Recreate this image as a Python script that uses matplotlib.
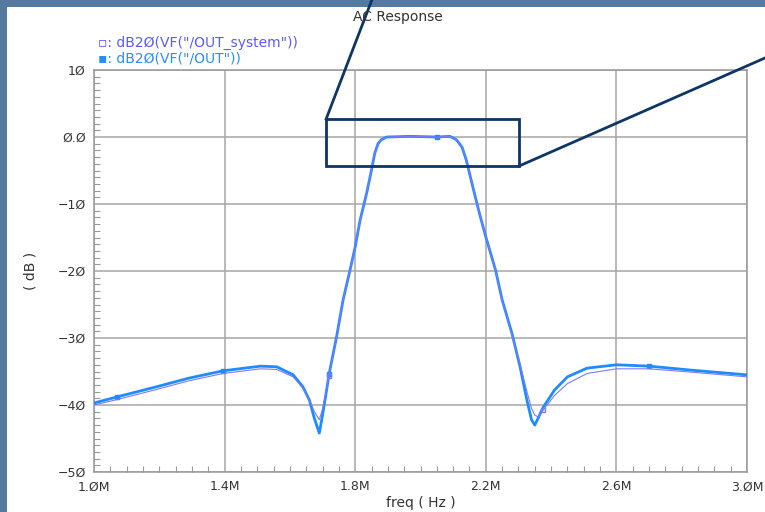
import matplotlib
matplotlib.use("Agg")
import matplotlib.pyplot as plt
from matplotlib.patches import Rectangle
from matplotlib.ticker import MultipleLocator

# ---- data (frequency in MHz, magnitude in dB) ----
freq = [1.00, 1.07, 1.19, 1.29, 1.395, 1.51, 1.56, 1.61, 1.64, 1.66, 1.675,
        1.69, 1.70, 1.71, 1.72, 1.743, 1.763, 1.784, 1.80, 1.815, 1.835, 1.85,
        1.86, 1.87, 1.88, 1.897, 1.968, 2.05, 2.09, 2.11, 2.127, 2.14, 2.16,
        2.18, 2.20, 2.23, 2.25, 2.28, 2.305, 2.326, 2.34, 2.35, 2.36, 2.375,
        2.41, 2.45, 2.51, 2.60, 2.70, 2.83, 3.00]
out_db = [-39.7, -38.8, -37.3, -36.0, -34.9, -34.2, -34.3, -35.5, -37.3, -39.3, -42.0,
          -44.2, -41.5, -38.5, -35.4, -29.8, -24.3, -19.9, -16.4, -12.4, -8.4, -4.9,
          -2.4, -1.0, -0.4, 0.0, 0.1, 0.0, 0.1, -0.4, -1.5, -3.4, -7.4,
          -11.3, -14.9, -19.9, -24.3, -29.3, -34.3, -39.3, -42.2, -43.0, -42.0, -40.4,
          -37.8, -35.8, -34.5, -34.0, -34.2, -34.8, -35.5]
sys_db = [-40.0, -39.2, -37.7, -36.4, -35.3, -34.6, -34.7, -35.8, -37.5, -39.3, -41.0,
          -42.2, -40.6, -38.2, -35.6, -29.9, -24.4, -19.9, -16.4, -12.4, -8.4, -4.9,
          -2.4, -1.0, -0.4, 0.0, 0.1, 0.0, 0.1, -0.4, -1.5, -3.4, -7.4,
          -11.3, -14.9, -19.9, -24.4, -29.5, -34.0, -38.0, -40.5, -41.5, -41.8, -40.8,
          -38.6, -36.8, -35.3, -34.6, -34.6, -35.1, -35.8]
out_markers = [1, 4, 14, 27, 48]
sys_markers = [14, 43]

xticks = [1.0, 1.4, 1.8, 2.2, 2.6, 3.0]
xticklabels = ["1.ØM", "1.4M", "1.8M", "2.2M", "2.6M", "3.ØM"]
yticks = [10, 0, -10, -20, -30, -40, -50]
yticklabels = ["1Ø", "Ø.Ø", "−1Ø", "−2Ø", "−3Ø", "−4Ø", "−5Ø"]

legend_sys = "▫: dB2Ø(VF(\"/OUT_system\"))"
legend_out = "▪: dB2Ø(VF(\"/OUT\"))"

# zoom box (data coords)
box_f = (1.711, 2.302)
box_db = (-4.33, 2.69)

W, H = 765, 512
fig = plt.figure(figsize=(W / 100, H / 100), dpi=100)
fig.patch.set_facecolor("#55799f")
fig.add_artist(Rectangle((7 / W, 0), 1 - 7 / W, 1 - 7 / H, transform=fig.transFigure,
                         facecolor="white", edgecolor="none", zorder=0))

ax = fig.add_axes([94 / W, 1 - 472 / H, (747 - 94) / W, (472 - 70) / H])
ax.set_facecolor("white")
ax.set_xlim(1.0, 3.0)
ax.set_ylim(-50, 10)

ax.set_xticks(xticks)
ax.set_xticklabels(xticklabels)
ax.set_yticks(yticks)
ax.set_yticklabels(yticklabels)
ax.xaxis.set_minor_locator(MultipleLocator(0.05))
ax.yaxis.set_minor_locator(MultipleLocator(1))
ax.tick_params(which="both", direction="in", colors="#999999", labelcolor="#333333",
               labelsize=9)
ax.tick_params(which="major", length=0, pad=6)
ax.tick_params(which="minor", length=4, width=0.8)
ax.grid(True, which="major", color="#a6a6a6", linewidth=1.1)
for s in ax.spines.values():
    s.set_color("#999999")
    s.set_linewidth(1.1)

ax.plot(freq, out_db, color="#1e8cff", linewidth=2.0, marker="s", markersize=3.5,
        markevery=out_markers, zorder=3, solid_joinstyle="round")
ax.plot(freq, sys_db, color="#7a7aff", linewidth=0.8, marker="s", markersize=3.5,
        markerfacecolor="none", markevery=sys_markers, zorder=4)

ax.set_xlabel("freq ( Hz )", fontsize=10, color="#333333", labelpad=2)
ax.set_ylabel("( dB )", fontsize=10, color="#333333", labelpad=14)

# zoom rectangle and lines
navy = "#0d3566"
ax.add_patch(Rectangle((box_f[0], box_db[0]), box_f[1] - box_f[0], box_db[1] - box_db[0],
                       fill=False, edgecolor=navy, linewidth=2, zorder=6))
ax.plot([box_f[0], 1.851], [box_db[1], 20.45], color=navy, linewidth=2,
        clip_on=False, zorder=6)
ax.plot([box_f[1], 3.06], [box_db[0], 11.9], color=navy, linewidth=2,
        clip_on=False, zorder=6)

fig.text(398 / W, 1 - 17 / H, "AC Response", ha="center", va="center",
         fontsize=10, color="#333333")
fig.text(98 / W, 1 - 43 / H, legend_sys, ha="left", va="center", fontsize=10,
         color="#5a5aff")
fig.text(98 / W, 1 - 58 / H, legend_out, ha="left", va="center", fontsize=10,
         color="#2a8cff")

fig.savefig("out.png", dpi=100, facecolor=fig.get_facecolor())
